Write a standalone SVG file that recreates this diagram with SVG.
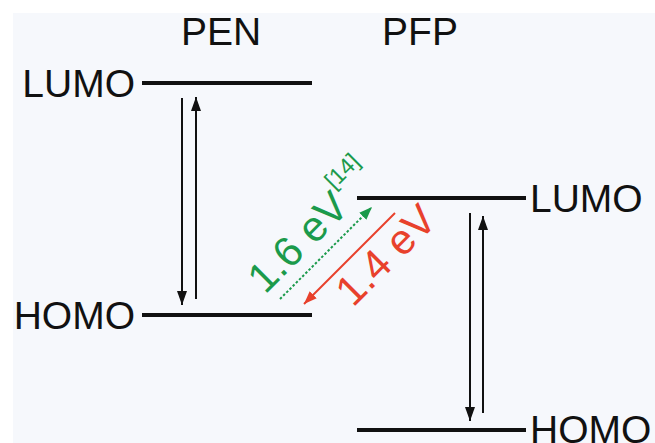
<svg xmlns="http://www.w3.org/2000/svg" width="655" height="443" viewBox="0 0 655 443">
<defs>
<style>
text{font-family:"Liberation Sans",Arial,sans-serif}
.lbl{font-size:39px;fill:#111}
.lvl{stroke:#111;stroke-width:4;fill:none}
.tr{stroke:#111;stroke-width:2;fill:none}
</style>
<marker id="ah" markerUnits="userSpaceOnUse" markerWidth="14" markerHeight="10" refX="14" refY="5" orient="auto">
<path d="M0,0 L14,5 L0,10 Z" fill="#111"/>
</marker>
<marker id="ahg" markerUnits="userSpaceOnUse" markerWidth="13" markerHeight="10" refX="13" refY="5" orient="auto">
<path d="M0,0 L13,5 L0,10 Z" fill="#1b9a4b"/>
</marker>
<marker id="ahr" markerUnits="userSpaceOnUse" markerWidth="13" markerHeight="10" refX="13" refY="5" orient="auto">
<path d="M0,0 L13,5 L0,10 Z" fill="#e8412c"/>
</marker>
</defs>
<rect x="0" y="0" width="655" height="443" fill="#ffffff"/>
<rect x="13" y="13" width="642" height="430" fill="#f6f8fc"/>
<text class="lbl" x="221" y="45" text-anchor="middle">PEN</text>
<text class="lbl" x="420" y="45" text-anchor="middle">PFP</text>
<g id="pen-lumo">
<text class="lbl" x="135" y="97" text-anchor="end">LUMO</text>
<line class="lvl" x1="142" y1="83" x2="312" y2="83"/>
</g>
<g id="pen-homo">
<text class="lbl" x="135" y="329" text-anchor="end">HOMO</text>
<line class="lvl" x1="142" y1="315" x2="312" y2="315"/>
</g>
<g id="pfp-lumo">
<line class="lvl" x1="357" y1="198" x2="526" y2="198"/>
<text class="lbl" x="530" y="212">LUMO</text>
</g>
<g id="pfp-homo">
<line class="lvl" x1="357" y1="430" x2="526" y2="430"/>
<text class="lbl" x="530" y="443">HOMO</text>
</g>
<g id="connectors">
<line class="tr" x1="182" y1="98" x2="182" y2="305" marker-end="url(#ah)"/>
<line class="tr" x1="196" y1="299" x2="196" y2="97" marker-end="url(#ah)"/>
<line class="tr" x1="470" y1="213" x2="470" y2="421" marker-end="url(#ah)"/>
<line class="tr" x1="483" y1="413" x2="483" y2="216" marker-end="url(#ah)"/>
<line x1="280" y1="299" x2="372" y2="207" stroke="#1b9a4b" stroke-width="2" stroke-dasharray="2.5,2" marker-end="url(#ahg)"/>
<line x1="395" y1="213" x2="304" y2="304" stroke="#e8412c" stroke-width="2" marker-end="url(#ahr)"/>
</g>
<g id="labels">
<text x="265" y="295" font-size="42" fill="#1b9a4b" transform="rotate(-45 265 295)">1.6 eV</text>
<text x="334" y="190" font-size="23" fill="#1b9a4b" transform="rotate(-45 334 190)">[14]</text>
<text x="353" y="308" font-size="42" fill="#e8412c" transform="rotate(-45 353 308)">1.4 eV</text>
</g>
</svg>
